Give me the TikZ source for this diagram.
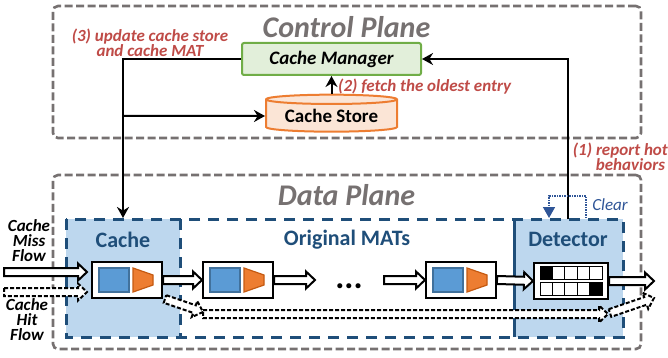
\documentclass[tikz,border=0pt]{standalone}
\usepackage{fontspec}
\setmainfont{Carlito}
\usetikzlibrary{arrows.meta,calc,shapes.geometric}

\definecolor{framegray}{HTML}{767171}
\definecolor{navy}{HTML}{1F4E79}
\definecolor{paleblue}{HTML}{BDD7EE}
\definecolor{redtext}{HTML}{BF4B47}
\definecolor{cleartext}{HTML}{2F5597}
\definecolor{mgrfill}{HTML}{E2EFDA}
\definecolor{mgrline}{HTML}{70AD47}
\definecolor{storefill}{HTML}{FBE5D6}
\definecolor{storeline}{HTML}{ED7D31}
\definecolor{tblfill}{HTML}{5B9BD5}
\definecolor{tblline}{HTML}{41719C}
\definecolor{actfill}{HTML}{ED7D31}
\definecolor{actline}{HTML}{C55A11}

\tikzset{
    planeframe/.style={draw=framegray,line width=2.6pt,rounded corners=5pt,
        dash pattern=on 8pt off 3.5pt,inner sep=0pt,minimum width=588pt},
    planelabel/.style={text=framegray,font=\fontsize{30}{30}\selectfont\bfseries\itshape},
    regionlabel/.style={text=navy,font=\fontsize{22}{22}\selectfont\bfseries},
    steplabel/.style={text=redtext,align=center,inner sep=0pt,font=\fontsize{17}{15}\selectfont\bfseries\itshape},
    flowlabel/.style={align=center,inner sep=0pt,font=\fontsize{17}{15}\selectfont\bfseries\itshape},
    matbox/.style={draw,fill=white,line width=2pt,minimum width=70pt,minimum height=36pt,inner sep=0pt},
    ctrlline/.style={line width=2pt,-{Stealth[length=11pt,width=12pt]}},
    flowline/.style={draw=black,fill=white,line width=2pt,line join=miter},
    hitline/.style={flowline,dash pattern=on 4pt off 2pt},
}

% block arrow from #2 to #3
\newcommand{\flowarrow}[3][]{%
    \draw[flowline,#1] ($(#2)!4pt!90:(#3)$)
        -- ($(#3)!9pt!(#2)!4pt!90:(#3)$)
        -- ($(#3)!9pt!(#2)!8.5pt!90:(#3)$)
        -- (#3)
        -- ($(#3)!9pt!(#2)!8.5pt!-90:(#3)$)
        -- ($(#3)!9pt!(#2)!4pt!-90:(#3)$)
        -- ($(#2)!4pt!-90:(#3)$) -- cycle;}

\begin{document}
\begin{tikzpicture}[x=1pt,y=-1pt]
    \useasboundingbox (0,0) rectangle (668,358);

    \node[planeframe,minimum height=132pt] (controlframe) at (347,72) {};
    \node[planeframe,minimum height=174pt] (dataframe) at (347,262) {};
    \node[planelabel] (controltitle) at (346.5,27) {Control Plane};
    \node[planelabel] (datatitle) at (346.5,195) {Data Plane};

    % regions of the data plane
    \fill[paleblue] (66,219) rectangle (180,337);
    \fill[paleblue] (514,219) rectangle (623,337);
    \draw[navy,line width=3pt,dash pattern=on 11pt off 8pt] (66,219) rectangle (623,337);
    \draw[navy,line width=3pt,dash pattern=on 11pt off 8pt] (180,219) -- (180,337);
    \draw[navy,line width=3pt] (514,219) -- (514,337);
    \node[regionlabel] (cachetitle) at (123,240) {Cache};
    \node[regionlabel] (matstitle) at (347,240) {Original MATs};
    \node[regionlabel] (dettitle) at (568,239) {Detector};

    % control plane
    \node[draw=mgrline,fill=mgrfill,line width=2pt,rounded corners=2pt,
        minimum width=179pt,minimum height=32pt,inner sep=0pt,
        font=\fontsize{19}{19}\selectfont\bfseries\itshape] (manager) at (331.5,59) {Cache Manager};
    \node[cylinder,shape border rotate=90,aspect=0.1,draw=storeline,fill=storefill,line width=2pt,
        cylinder uses custom fill,cylinder body fill=storefill,cylinder end fill=storefill,
        minimum width=131pt,minimum height=37pt,inner sep=0pt,
        font=\fontsize{19}{19}\selectfont\bfseries] (store) at (331.5,116) {Cache Store};

    \coordinate (turn) at (123,59);
    \coordinate (branch) at (123,116);
    \coordinate (cachetop) at (123,218);
    \coordinate (dettop) at (568,219);
    \coordinate (detturn) at (568,59);
    \coordinate (clearfrom) at (586,218);
    \coordinate (clearright) at (586,196);
    \coordinate (clearleft) at (549,196);
    \coordinate (clearto) at (549,218);

    \draw[ctrlline] (manager.west) -- (turn) -- (cachetop);
    \draw[ctrlline] (branch) -- (store.west);
    \draw[ctrlline] (store.north) -- (manager.south);
    \draw[ctrlline] (dettop) -- (detturn) -- (manager.east);
    \draw[cleartext,line width=1.5pt,densely dotted,
        -{Triangle[length=11pt,width=12pt,fill=cleartext,sep=0pt]}]
        (clearfrom) -- (clearright) -- (clearleft) -- (clearto);

    \node[steplabel] (upd) at (150,42.5) {(3) update cache store\\and cache MAT};
    \node[steplabel,anchor=west] (fetch) at (338,87) {(2) fetch the oldest entry};
    \node[steplabel,anchor=east,align=right] (report) at (668,157) {(1) report hot\\behaviors\,};
    \node[text=cleartext,font=\fontsize{17}{17}\selectfont\itshape] (clear) at (610,205) {Clear};

    % match-action tables
    \foreach \name/\x in {cachemat/127,mata/238,matb/461} {
        \node[matbox] (\name) at (\x,280) {};
        \draw[fill=tblfill,draw=tblline,line width=1.2pt] (\x-28,268) rectangle (\x+2,292);
        \draw[fill=actfill,draw=actline,line width=1.2pt] (\x+6,268) -- (\x+26,275) -- (\x+26,285) -- (\x+6,292) -- cycle;
    }
    \node[font=\fontsize{34}{34}\selectfont\bfseries] (dots) at (349,286) {...};

    % detector registers
    \node[matbox,minimum width=74pt] (detbox) at (571,281) {};
    \foreach \i in {0,...,4} {
        \draw[line width=1pt,fill=white] (540+12.4*\i,266) rectangle ++(12.4,13);
        \draw[line width=1pt,fill=white] (540+12.4*\i,282) rectangle ++(12.4,13);
    }
    \fill (540,266) rectangle ++(12.4,13);
    \fill (589.6,282) rectangle ++(12.4,13);

    % flows
    \coordinate (missin) at (4,272);
    \coordinate (missout) at (87,272);
    \coordinate (hitin) at (4,292);
    \coordinate (hitout) at (87,292);
    \coordinate (mataout) at (315,280);
    \coordinate (matbin) at (384,280);
    \coordinate (detout) at (654,281);
    \coordinate (skipfrom) at (165,299);
    \coordinate (skipto) at (203,312);
    \coordinate (longfrom) at (203,314);
    \coordinate (longto) at (608,314);
    \coordinate (backfrom) at (610,313);
    \coordinate (backto) at (654,298);

    \flowarrow{missin}{missout}
    \flowarrow[hitline]{hitin}{hitout}
    \flowarrow{cachemat.east}{mata.west}
    \flowarrow{mata.east}{mataout}
    \flowarrow{matbin}{matb.west}
    \flowarrow{matb.east}{detbox.west}
    \flowarrow{detbox.east}{detout}
    \flowarrow[hitline]{skipfrom}{skipto}
    \flowarrow[hitline]{longfrom}{longto}
    \flowarrow[hitline]{backfrom}{backto}

    \node[flowlabel] (misslabel) at (29,240.5) {Cache\\Miss\\Flow};
    \node[flowlabel] (hitlabel) at (27,320) {Cache\\Hit\\Flow};
\end{tikzpicture}
\end{document}
